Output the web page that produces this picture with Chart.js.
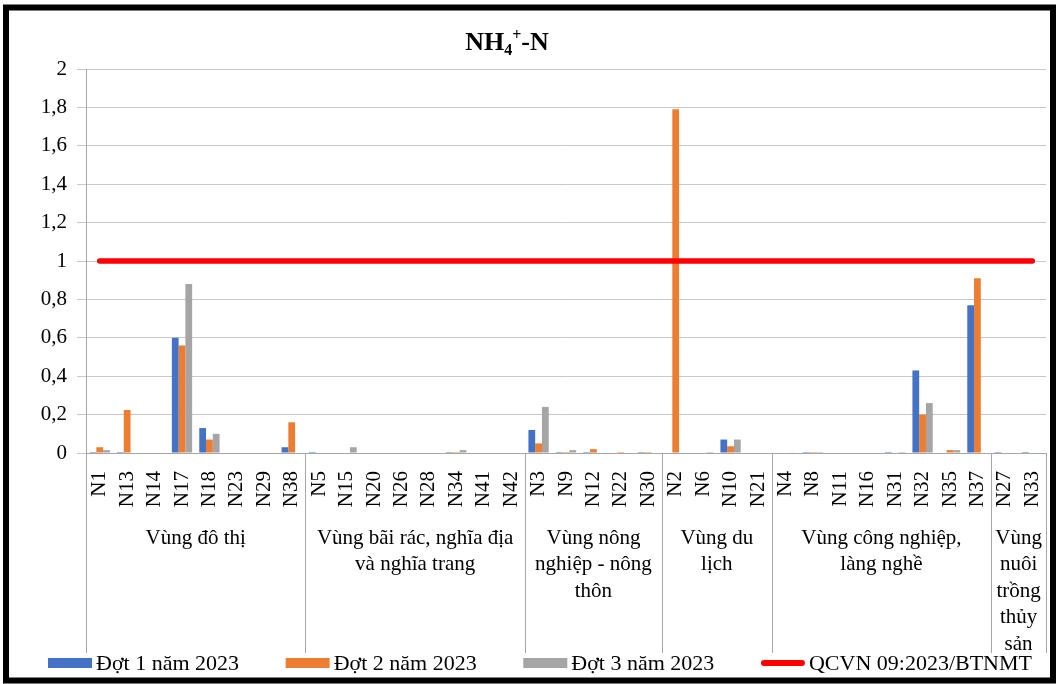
<!DOCTYPE html>
<html><head><meta charset="utf-8">
<script src="https://cdn.jsdelivr.net/npm/chart.js@4"></script>
<style>html,body{margin:0;padding:0;background:#fff;}#wrap{width:1059px;height:684px;position:relative;}</style>
</head><body><div id="wrap"><canvas id="c" width="1059" height="684"></canvas></div>
<script>
const categories = ['N1','N13','N14','N17','N18','N23','N29','N38',
  'N5','N15','N20','N26','N28','N34','N41','N42',
  'N3','N9','N12','N22','N30',
  'N2','N6','N10','N21',
  'N4','N8','N11','N16','N31','N32','N35','N37',
  'N27','N33'];
const groupNames = [
  ['Vùng đô thị'],
  ['Vùng bãi rác, nghĩa địa','và nghĩa trang'],
  ['Vùng nông','nghiệp - nông','thôn'],
  ['Vùng du','lịch'],
  ['Vùng công nghiệp,','làng nghề'],
  ['Vùng','nuôi','trồng','thủy','sản']
];
const groupSizes = [8,8,5,4,8,2];
const dot1 = [0.005,0.005,0,0.6,0.13,0,0,0.03,
  0.005,0,0,0,0,0.005,0,0,
  0.12,0.005,0.005,0,0.005,
  0,0,0.07,0,
  0,0.005,0,0,0.005,0.43,0,0.77,
  0.005,0.005];
const dot2 = [0.03,0.224,0,0.56,0.07,0,0,0.16,
  0,0,0,0,0,0.005,0,0,
  0.05,0.005,0.02,0.005,0.005,
  1.79,0,0.035,0,
  0,0.005,0,0,0,0.2,0.015,0.91,
  0,0];
const dot3 = [0.015,0,0,0.88,0.1,0,0,0,
  0,0.03,0,0,0,0.015,0,0,
  0.24,0.015,0,0,0,
  0,0.005,0.07,0,
  0.003,0.005,0,0,0.005,0.26,0.015,0,
  0,0];
const qcvn = [1,1,1,1,1,1,1,1,1,1,1,1,1,1,1,1,1,1,1,1,1,1,1,1,1,1,1,1,1,1,1,1,1,1,1];
const yTickLabels = ['0','0,2','0,4','0,6','0,8','1','1,2','1,4','1,6','1,8','2'];
const seriesNames = ['Đợt 1 năm 2023','Đợt 2 năm 2023','Đợt 3 năm 2023','QCVN 09:2023/BTNMT'];
const colors = ['#4472C4','#ED7D31','#A5A5A5','#FF0000'];

const FONT = "'Liberation Serif', 'Times New Roman', serif";
Chart.defaults.font.family = FONT;
Chart.defaults.color = '#000';

const decor = {
  id: 'decor',
  afterDraw(chart) {
    const ctx = chart.ctx;
    const xs = chart.scales.x;
    const area = chart.chartArea;
    ctx.save();
    // frame
    ctx.strokeStyle = '#000';
    ctx.lineWidth = 6;
    ctx.strokeRect(6, 7.5, 1047, 673);
    // title
    const tx = 507, ty = 41;
    const big = 'bold 26px ' + FONT, small = 'bold 16px ' + FONT;
    ctx.fillStyle = '#000';
    ctx.textBaseline = 'alphabetic';
    ctx.font = big; const w1 = ctx.measureText('NH').width; const w4 = ctx.measureText('-N').width;
    ctx.font = small; const w2 = ctx.measureText('4').width; const w3 = ctx.measureText('+').width;
    const tw = w1 + w2 + w3 + w4;
    let x = tx - tw / 2;
    const base = ty + 9;
    ctx.textAlign = 'left';
    ctx.font = big; ctx.fillText('NH', x, base); x += w1;
    ctx.font = small; ctx.fillText('4', x, base + 5); x += w2;
    ctx.fillText('+', x, base - 10); x += w3;
    ctx.font = big; ctx.fillText('-N', x, base);
    // group separators and labels
    const half = (xs.getPixelForValue(1) - xs.getPixelForValue(0)) / 2;
    ctx.strokeStyle = '#a6a6a6';
    ctx.lineWidth = 1;
    let start = 0;
    const bounds = [0];
    groupSizes.forEach(n => { start += n; bounds.push(start); });
    bounds.forEach(b => {
      const px = b < categories.length ? xs.getPixelForValue(b) - half : xs.getPixelForValue(categories.length - 1) + half;
      const sx = Math.round(px) + 0.5;
      ctx.beginPath(); ctx.moveTo(sx, area.bottom); ctx.lineTo(sx, 653); ctx.stroke();
    });
    ctx.font = '21px ' + FONT;
    ctx.textAlign = 'center';
    ctx.textBaseline = 'middle';
    ctx.fillStyle = '#000';
    for (let g = 0; g < groupSizes.length; g++) {
      const a = xs.getPixelForValue(bounds[g]);
      const b = xs.getPixelForValue(bounds[g + 1] - 1);
      const cx = (a + b) / 2;
      groupNames[g].forEach((line, i) => ctx.fillText(line, cx, area.bottom + 85 + i * 26.5));
    }
    // legend
    ctx.font = '22px ' + FONT;
    const boxW = 44, gapT = 4;
    const widths = seriesNames.map(s => boxW + gapT + ctx.measureText(s).width);
    const totalSpan = 984;
    const gap = (totalSpan - widths.reduce((p, c) => p + c, 0)) / 3;
    let lx = 48;
    const ly = 663;
    ctx.textAlign = 'left';
    ctx.textBaseline = 'middle';
    seriesNames.forEach((s, i) => {
      if (i < 3) {
        ctx.fillStyle = colors[i];
        ctx.fillRect(lx, ly - 5, boxW, 10);
      } else {
        ctx.strokeStyle = colors[i];
        ctx.lineWidth = 6;
        ctx.lineCap = 'round';
        ctx.beginPath(); ctx.moveTo(lx + 3, ly); ctx.lineTo(lx + boxW - 3, ly); ctx.stroke();
      }
      ctx.fillStyle = '#000';
      ctx.fillText(s, lx + boxW + gapT, ly + 1);
      lx += widths[i] + gap;
    });
    ctx.restore();
  }
};

const barCommon = {type: 'bar', categoryPercentage: 0.74, barPercentage: 1, borderWidth: 0, order: 1};
new Chart(document.getElementById('c'), {
  data: {
    labels: categories,
    datasets: [
      Object.assign({label: seriesNames[0], data: dot1, backgroundColor: colors[0]}, barCommon),
      Object.assign({label: seriesNames[1], data: dot2, backgroundColor: colors[1]}, barCommon),
      Object.assign({label: seriesNames[2], data: dot3, backgroundColor: colors[2]}, barCommon),
      {type: 'line', label: seriesNames[3], data: qcvn, borderColor: colors[3], backgroundColor: colors[3],
       borderWidth: 5.5, pointRadius: 0, borderCapStyle: 'round', fill: false, order: 0}
    ]
  },
  options: {
    responsive: false, animation: false, devicePixelRatio: 1,
    layout: {padding: {left: 10, right: 13, top: 69, bottom: 0}},
    plugins: {legend: {display: false}, title: {display: false}, tooltip: {enabled: false}},
    scales: {
      x: {
        grid: {display: false},
        border: {display: true, color: '#a6a6a6', width: 1},
        ticks: {font: {size: 21}, minRotation: 90, maxRotation: 90, autoSkip: false, padding: 10, color: '#000'},
        afterFit(s) { s.height = 231; s.paddingLeft = 0; s.paddingRight = 0; }
      },
      y: {
        min: 0, max: 2,
        ticks: {stepSize: 0.2, font: {size: 21}, padding: 10, color: '#000',
          callback: (v, i) => yTickLabels[i]},
        grid: {color: '#c8c8c8', tickLength: 9, drawTicks: true},
        border: {display: true, color: '#a6a6a6'},
        afterFit(s) { s.width = 76; s.paddingTop = 0; s.paddingBottom = 0; }
      }
    }
  },
  plugins: [decor]
});
</script></body></html>
